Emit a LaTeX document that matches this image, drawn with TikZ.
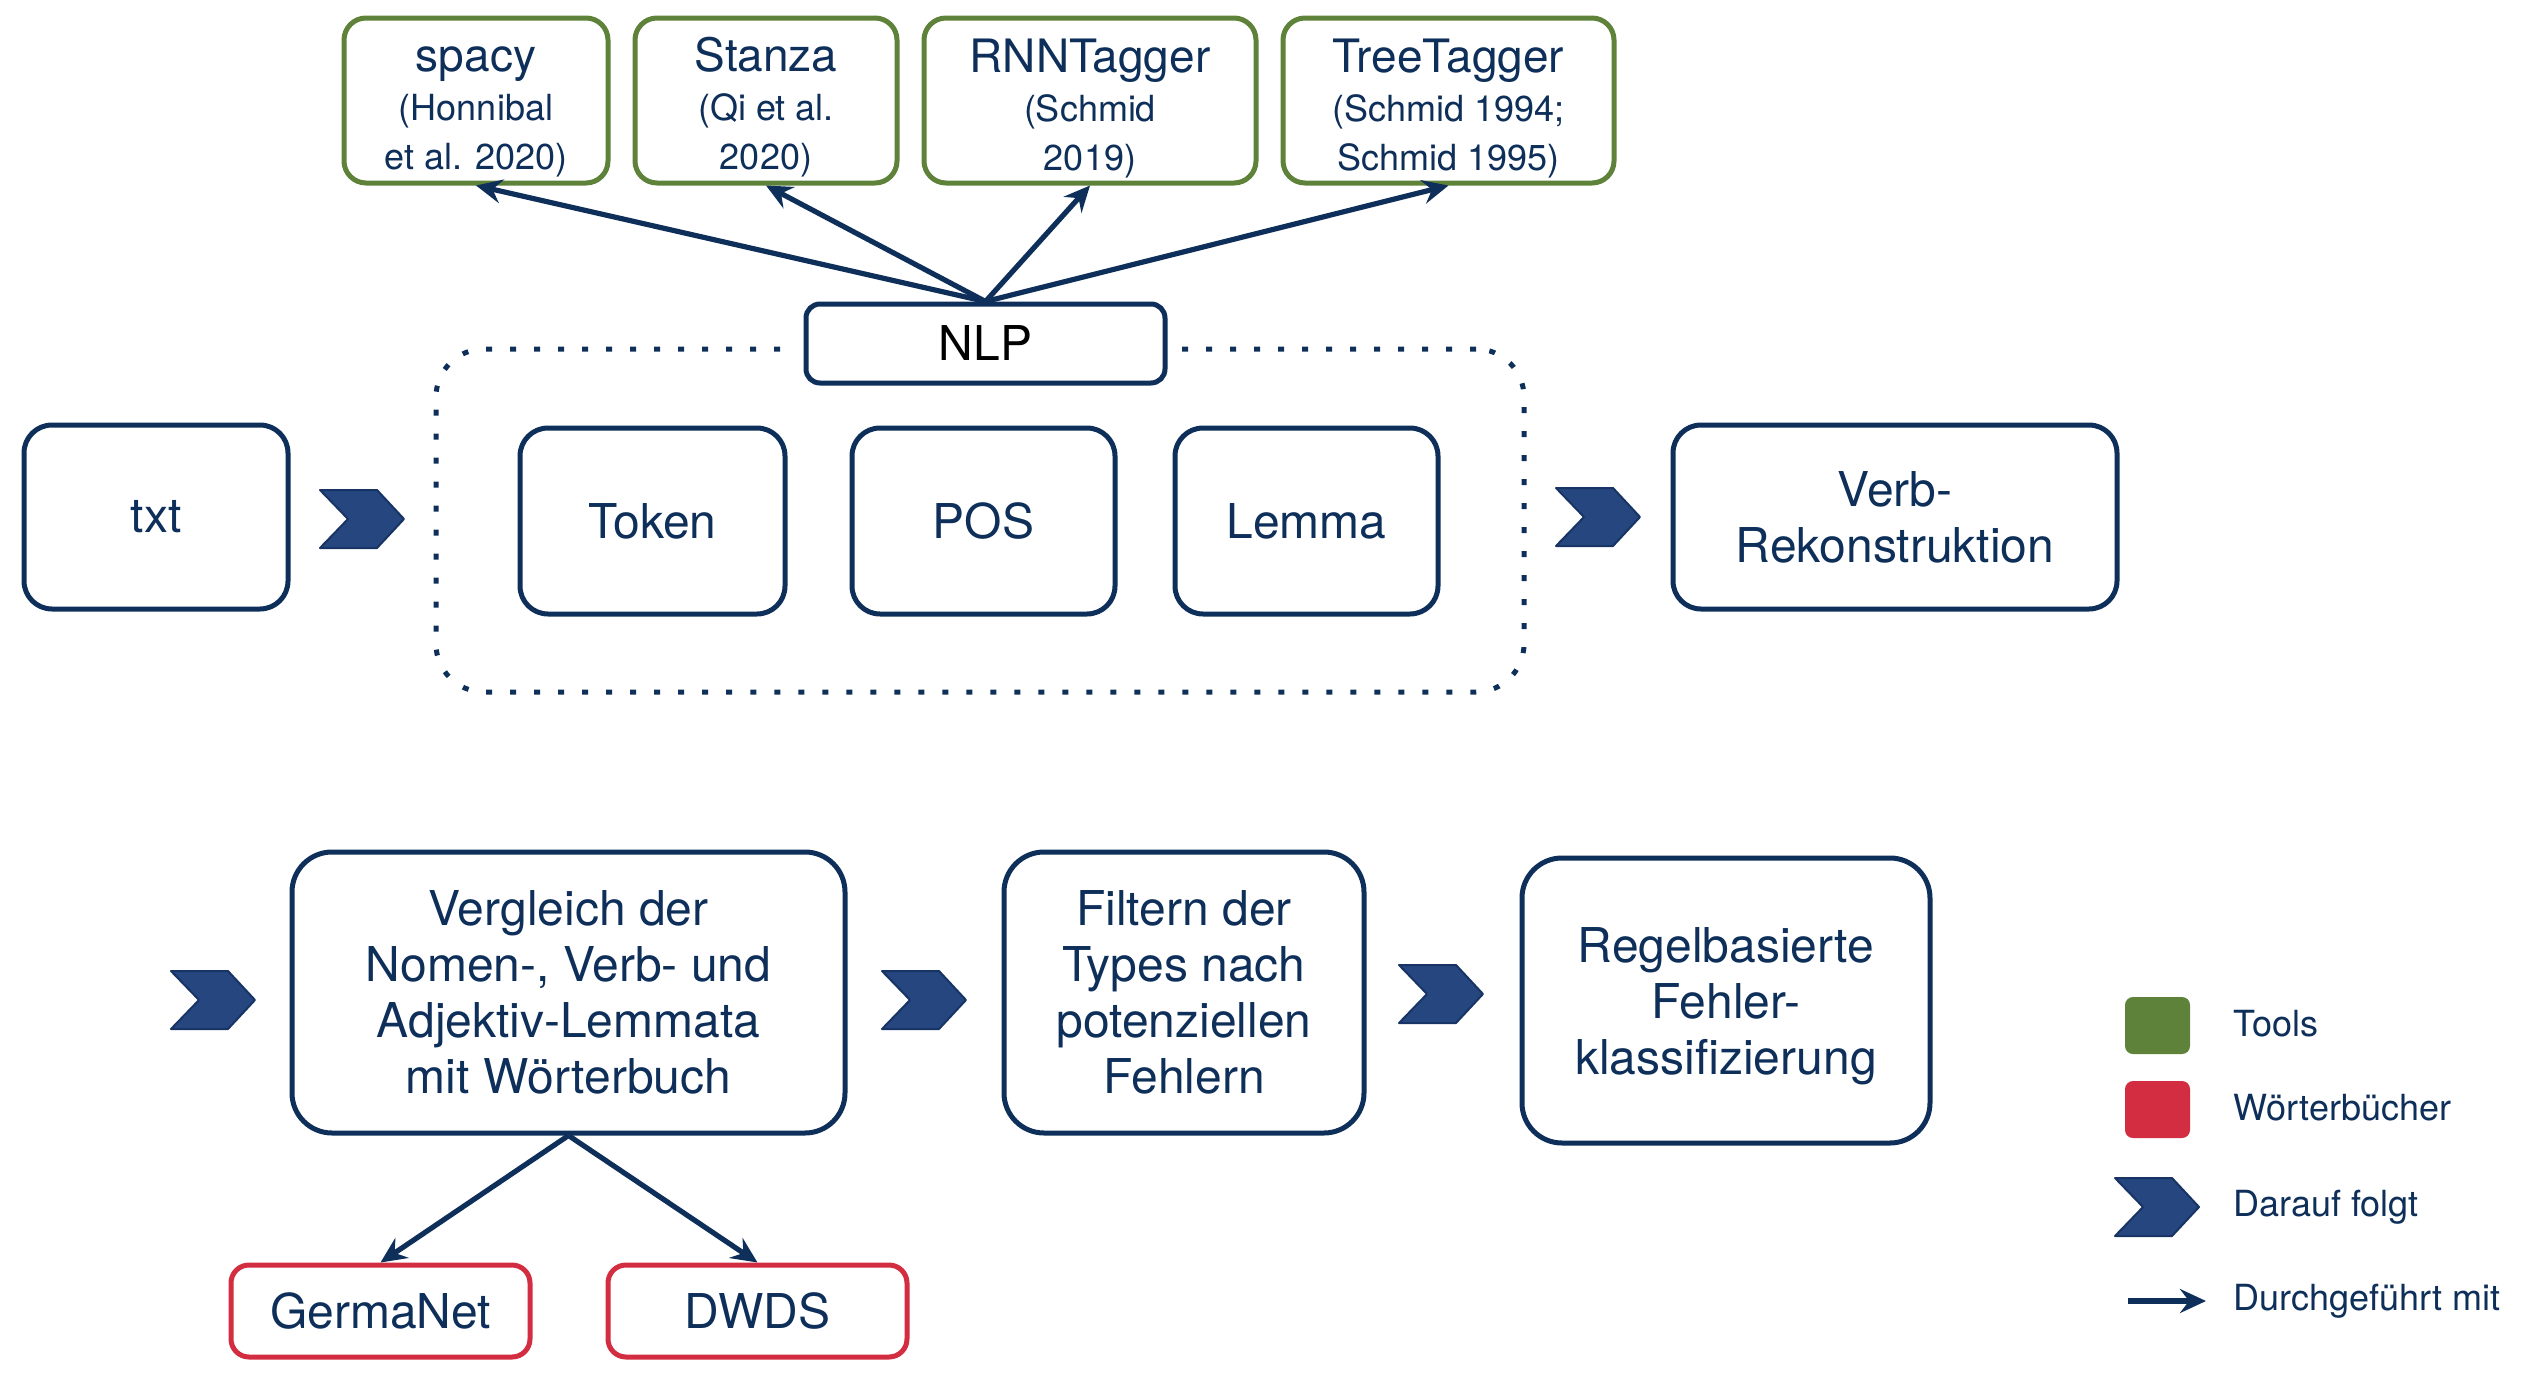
\documentclass[tikz,border=0pt]{standalone}
\usepackage{fontspec}
\setmainfont{TeX Gyre Heros}
\usetikzlibrary{arrows.meta,calc}
\definecolor{navy}{RGB}{14,47,89}
\definecolor{chevfill}{RGB}{37,70,127}
\definecolor{chevline}{RGB}{24,52,100}
\definecolor{toolgreen}{RGB}{94,130,58}
\definecolor{dictred}{RGB}{210,45,64}
\begin{document}
\begin{tikzpicture}[x=0.5pt,y=-0.5pt,
  box/.style={draw=navy, line width=2.5pt, rounded corners=14pt, fill=white, text=navy,
    align=center, inner sep=0pt, font=\fontsize{24}{28}\selectfont},
  toolbox/.style={box, draw=toolgreen, rounded corners=11pt, font=\fontsize{18}{24.5}\selectfont},
  dictbox/.style={box, draw=dictred, rounded corners=9pt},
  nlpbox/.style={box, text=black, rounded corners=7pt, preaction={draw=white, line width=12pt}},
  group/.style={draw=navy, line width=2.5pt, dash pattern=on 3pt off 9pt, rounded corners=24pt,
    inner sep=0pt},
  conn/.style={draw=navy, line width=2.6pt, -{Stealth[length=13pt, width=12pt, inset=4.5pt]}},
  legtext/.style={anchor=west, text=navy, font=\fontsize{18}{22}\selectfont, inner sep=0pt},
  legsq/.style={rounded corners=4pt, inner sep=0pt, minimum width=32.5pt, minimum height=28.5pt},
  chev/.pic={\draw[draw=chevline, fill=chevfill, line width=1pt, line join=round]
    (0,0) -- (57,0) -- (84,29) -- (57,58) -- (0,58) -- (28,29) -- cycle;}
]
\useasboundingbox (0,0) rectangle (2534,1376);

% tools
\node[toolbox, minimum width=132pt, minimum height=82.5pt] (spacy) at (476,100.5)
  {\rule{0pt}{24pt}{\fontsize{23}{24}\selectfont spacy}\\(Honnibal\\et al. 2020)};
\node[toolbox, minimum width=131pt, minimum height=82.5pt] (stanza) at (766,100.5)
  {\rule{0pt}{24pt}{\fontsize{23}{24}\selectfont Stanza}\\(Qi et al.\\2020)};
\node[toolbox, minimum width=166pt, minimum height=82.5pt] (rnn) at (1090,100.5)
  {\rule{0pt}{25pt}{\fontsize{23}{24}\selectfont RNNTagger}\\(Schmid\\2019)};
\node[toolbox, minimum width=165.5pt, minimum height=82.5pt] (tree) at (1448.5,100.5)
  {\rule{0pt}{25pt}{\fontsize{23}{24}\selectfont TreeTagger}\\(Schmid 1994;\\Schmid 1995)};

% NLP group
\node[group, minimum width=544pt, minimum height=171.5pt] (grp) at (980,520.5) {};
\node[nlpbox, minimum width=179.5pt, minimum height=39.5pt] (nlp) at (985.5,343.5) {NLP};

\node[box, minimum width=132pt, minimum height=92pt] (txt) at (156,517) {txt};
\node[box, minimum width=132.5pt, minimum height=93pt] (token) at (652.5,521) {Token};
\node[box, minimum width=131.5pt, minimum height=93pt] (pos) at (983.5,521) {POS};
\node[box, minimum width=131.5pt, minimum height=93pt] (lemma) at (1306.5,521) {Lemma};
\node[box, minimum width=222pt, minimum height=92pt] (verb) at (1895,517) {Verb-\\Rekonstruktion};

\node[box, minimum width=276.5pt, minimum height=140.5pt, rounded corners=20pt] (vergl) at (568.5,992.5)
  {Vergleich der\\Nomen-, Verb- und\\Adjektiv-Lemmata\\mit Wörterbuch};
\node[box, minimum width=180pt, minimum height=140.5pt, rounded corners=20pt] (filt) at (1184,992.5)
  {Filtern der\\Types nach\\potenziellen\\Fehlern};
\node[box, minimum width=204pt, minimum height=142.5pt, rounded corners=20pt] (regel) at (1726,1000.5)
  {\rule{0pt}{23pt}Regelbasierte\\Fehler-\\klassifizierung};

\node[dictbox, minimum width=149.5pt, minimum height=46pt] (germanet) at (380.5,1311) {GermaNet};
\node[dictbox, minimum width=149.5pt, minimum height=46pt] (dwds) at (757.5,1311) {DWDS};

% connectors
\draw[conn] (nlp.north) -- (spacy.south);
\draw[conn] (nlp.north) -- (stanza.south);
\draw[conn] (nlp.north) -- (rnn.south);
\draw[conn] (nlp.north) -- (tree.south);
\draw[conn] (vergl.south) -- (germanet.north);
\draw[conn] (vergl.south) -- (dwds.north);

% chevrons
\pic at (320,490) {chev};
\pic at (1556,488) {chev};
\pic at (171,971) {chev};
\pic at (882,971) {chev};
\pic at (1399,965) {chev};

% legend
\node[legsq, fill=toolgreen] (lgreen) at (2157.5,1025.5) {};
\node[legsq, fill=dictred] (lred) at (2157.5,1109.5) {};
\pic at (2115,1178) {chev};
\coordinate (la) at (2128,1301);
\coordinate (lb) at (2206,1301);
\draw[conn] (la) -- (lb);
\node[legtext] (t1) at (2233,1024) {Tools};
\node[legtext] (t2) at (2233,1108) {Wörterbücher};
\node[legtext] (t3) at (2233,1207) {Darauf folgt};
\node[legtext] (t4) at (2233,1301) {Durchgeführt mit};
\end{tikzpicture}
\end{document}
